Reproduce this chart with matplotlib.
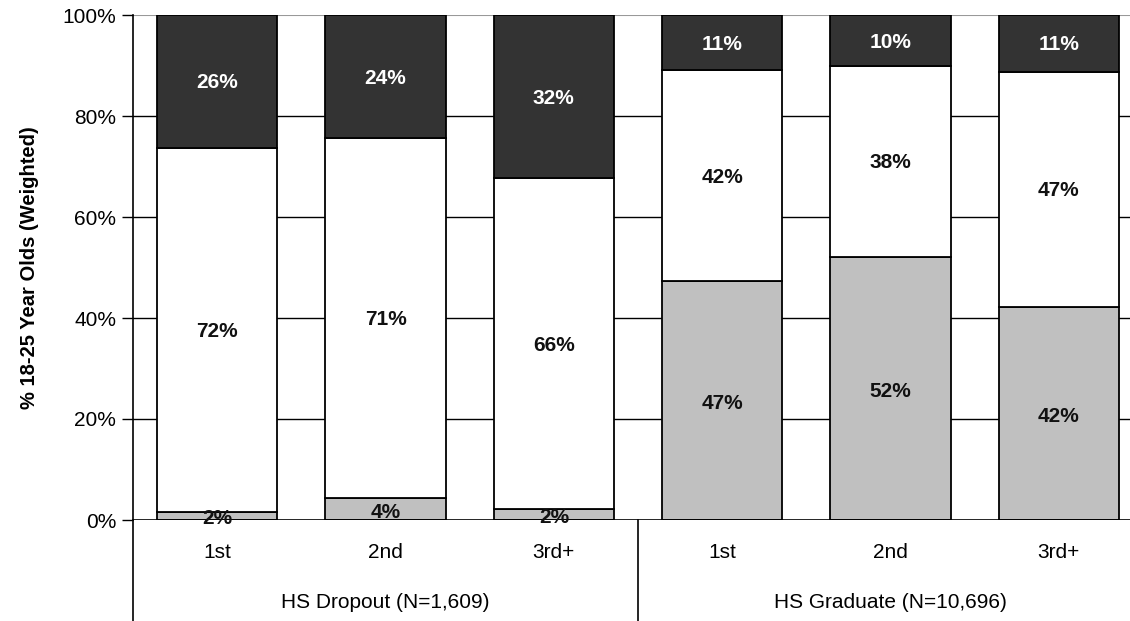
import matplotlib.pyplot as plt
import numpy as np
from matplotlib import transforms

plt.rcParams['font.family'] = ['Liberation Sans Narrow', 'Liberation Sans', 'DejaVu Sans']

# data (percent of 18-25 year olds, weighted)
groups = ['HS Dropout (N=1,609)', 'HS Graduate (N=10,696)']
orders = ['1st', '2nd', '3rd+', '1st', '2nd', '3rd+']
bottom_vals = [1.6, 4.3, 2.2, 47.3, 52.1, 42.2]
middle_vals = [72.1, 71.3, 65.5, 41.8, 37.8, 46.6]
top_vals = [26.3, 24.4, 32.3, 10.9, 10.1, 11.2]
bottom_lbl = [2, 4, 2, 47, 52, 42]
middle_lbl = [72, 71, 66, 42, 38, 47]
top_lbl = [26, 24, 32, 11, 10, 11]

fig = plt.figure(figsize=(11.3, 6.21), dpi=100)
ax = fig.add_axes([133 / 1130, 101 / 621, 1010 / 1130, 505 / 621])

x = np.arange(len(orders))
w = 0.713
b = np.array(bottom_vals)
m = np.array(middle_vals)
t = np.array(top_vals)

ax.bar(x, b, w, color='#c0c0c0', edgecolor='black', linewidth=1.3, zorder=3)
ax.bar(x, m, w, bottom=b, color='white', edgecolor='black', linewidth=1.3, zorder=3)
ax.bar(x, t, w, bottom=b + m, color='#333333', edgecolor='black', linewidth=1.3, zorder=3)

fs = 15
for i in range(len(x)):
    ax.text(x[i], b[i] / 2 - 0.6, f'{bottom_lbl[i]}%', ha='center', va='center',
            fontsize=fs, fontweight='bold', color='#111111', zorder=5)
    ax.text(x[i], b[i] + m[i] / 2 - 0.3, f'{middle_lbl[i]}%', ha='center', va='center',
            fontsize=fs, fontweight='bold', color='#111111', zorder=5)
    ax.text(x[i], b[i] + m[i] + t[i] / 2 - 0.3, f'{top_lbl[i]}%', ha='center', va='center',
            fontsize=fs, fontweight='bold', color='white', zorder=5)

ax.set_xlim(-0.5, 5.5)
ax.set_ylim(0, 100)
ax.set_yticks(np.arange(0, 101, 20))
ax.set_yticklabels([f'{v}%' for v in range(0, 101, 20)], fontsize=fs)
ax.tick_params(axis='y', length=8, width=1, pad=4)
ax.set_xticks([])

for v in range(20, 100, 20):
    ax.axhline(v, color='black', linewidth=1, zorder=1)
ax.axhline(100, color='#999999', linewidth=1.5, zorder=1)
ax.axhline(0, color='black', linewidth=1.2, zorder=4)

for s in ['top', 'right', 'bottom']:
    ax.spines[s].set_visible(False)
ax.spines['left'].set_linewidth(1.2)

fig.text(30 / 1130, 1 - 268 / 621, '% 18-25 Year Olds (Weighted)', rotation=90,
         ha='center', va='center', fontsize=14.5, fontweight='bold')

# category labels and group labels below the axis
trans = transforms.blended_transform_factory(ax.transData, fig.transFigure)
for i, lab in enumerate(orders):
    ax.text(x[i], 1 - 553 / 621, lab, transform=trans, ha='center', va='center', fontsize=fs)
for g, lab in enumerate(groups):
    ax.text(1 + 3 * g, 1 - 602 / 621, lab, transform=trans, ha='center', va='center', fontsize=fs)
for sep in [-0.5, 2.5]:
    ax.plot([sep, sep], [1 - 520 / 621, 0], transform=trans, color='black',
            linewidth=1.2, clip_on=False)

fig.savefig('out.png', dpi=100)
